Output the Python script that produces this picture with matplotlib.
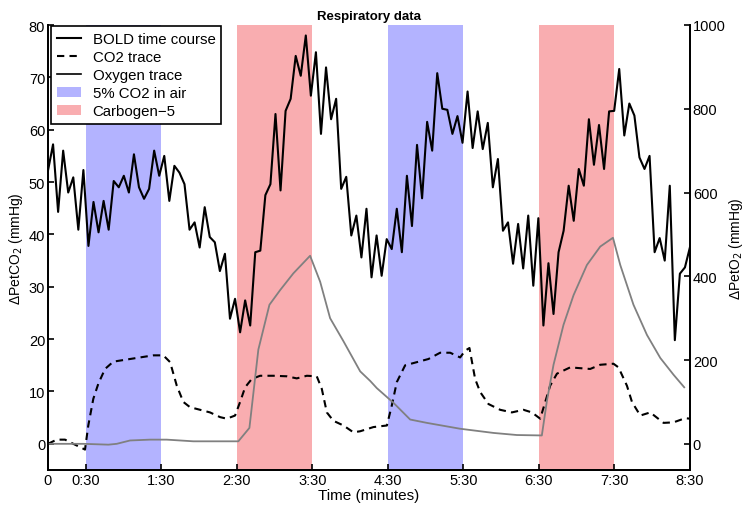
import matplotlib
matplotlib.use("Agg")
import matplotlib.pyplot as plt
from matplotlib.lines import Line2D
import numpy as np

plt.rcParams['font.family'] = ['Liberation Sans', 'DejaVu Sans']

# BOLD signal, one sample every ~4 s over the 8:30 run (left axis units)
bold = [52.2, 57.2, 44.3, 56.0, 48.0, 50.9, 40.9, 52.3, 37.8, 46.2,
        40.4, 46.4, 40.9, 50.2, 49.0, 51.2, 48.0, 55.3, 49.0, 46.8,
        48.7, 56.0, 51.2, 55.0, 46.4, 53.1, 51.8, 49.6, 40.9, 42.3,
        37.5, 45.2, 39.5, 38.5, 33.0, 36.3, 23.9, 27.7, 21.3, 27.4,
        22.6, 36.6, 36.9, 47.5, 49.6, 63.0, 48.4, 63.6, 65.9, 74.1,
        70.3, 78.0, 66.5, 74.8, 59.2, 71.9, 62.0, 65.9, 48.7, 51.0,
        39.8, 43.6, 35.6, 44.9, 31.8, 39.8, 32.1, 39.1, 37.2, 44.9,
        36.6, 51.2, 41.6, 57.1, 46.9, 61.5, 56.0, 70.8, 64.0, 63.8,
        59.2, 62.6, 57.5, 67.3, 56.5, 63.5, 56.3, 61.3, 49.0, 54.4,
        40.7, 42.3, 34.4, 42.0, 33.5, 43.6, 30.2, 43.1, 22.6, 34.5,
        24.8, 36.6, 40.7, 49.3, 42.6, 52.5, 49.3, 62.0, 53.3, 60.9,
        52.5, 63.5, 63.6, 71.6, 58.9, 65.0, 62.7, 54.7, 52.5, 55.0,
        36.6, 39.3, 35.0, 49.3, 19.8, 32.5, 33.7, 37.6]
bold_t = np.linspace(0, 510, len(bold))

# end-tidal CO2 change (mmHg)
co2_t = [0, 6.9, 13.5, 20.1, 29.4, 32.0, 36.0, 40.0, 45.3, 51.9, 62.5, 73.1,
         83.7, 91.6, 97.0, 102.3, 107.5, 112.8, 120.8, 128.7, 136.7, 142.0,
         148.6, 152.6, 156.6, 161.9, 168.5, 179.1, 189.7, 197.6, 205.6,
         213.5, 217.5, 221.5, 226.7, 234.7, 242.6, 248.0, 258.5, 269.2,
         273.1, 277.1, 283.7, 293.0, 302.2, 311.5, 319.5, 327.4, 331.4,
         334.8, 339.3, 343.3, 349.9, 359.2, 368.5, 377.7, 384.4, 391.0,
         395.0, 398.9, 404.3, 414.8, 425.4, 430.7, 438.7, 449.2, 453.2,
         459.9, 463.9, 470.5, 478.4, 489.0, 496.9, 506.2, 510]
co2 = [0, 0.8, 0.8, 0, -1.1, 3.5, 8.6, 11.5, 14.3, 15.7, 16.1, 16.5,
       16.9, 16.9, 15.6, 11.1, 8.0, 7.0, 6.5, 6.0, 5.1, 4.8,
       5.4, 8.0, 10.8, 12.4, 13.0, 13.0, 12.9, 12.5, 13.0,
       12.9, 10.5, 6.0, 4.4, 3.5, 2.2, 2.4, 3.2, 3.5,
       7.3, 11.8, 15.0, 15.6, 16.2, 17.4, 17.4, 16.5, 17.8,
       18.3, 12.4, 9.9, 7.6, 6.5, 6.0, 6.5, 6.0, 4.8,
       8.0, 11.1, 13.4, 14.6, 14.4, 14.3, 15.1, 15.3, 14.6,
       11.1, 8.0, 5.4, 6.0, 4.0, 4.1, 4.9, 4.8]

# end-tidal O2 change (mmHg, right axis)
o2_t = [0, 28.0, 48.0, 54.6, 65.2, 81.1, 94.3, 115.5, 136.7, 151.2, 160.0,
        167.1, 175.9, 184.4, 194.9, 208.2, 216.2, 224.1, 234.7, 248.0,
        256.0, 261.2, 274.4, 287.7, 301.0, 327.4, 353.9, 372.5, 392.3,
        396.3, 401.6, 409.5, 417.5, 428.1, 438.7, 448.8, 454.6, 465.1,
        475.8, 486.4, 496.9, 505.4]
o2 = [0, 0, -2, 0, 8, 10, 10, 6, 6, 6, 38,
      225, 332, 367, 407, 449, 387, 300, 245, 173,
      150, 133, 98, 58, 50, 36, 26, 21, 20,
      102, 189, 284, 355, 427, 471, 492, 427, 332,
      260, 205, 165, 135]

blocks_co2 = [(30, 90), (270, 330)]
blocks_carbogen = [(150, 210), (390, 450)]
xticks = [0, 30, 90, 150, 210, 270, 330, 390, 450, 510]
xticklabels = ['0', '0:30', '1:30', '2:30', '3:30', '4:30', '5:30', '6:30', '7:30', '8:30']

blue = '#b3b3ff'
red = '#f9adb0'

fig = plt.figure(figsize=(7.46, 5.1), dpi=100)
ax = fig.add_axes([48 / 746, 39 / 510, 642 / 746, 445 / 510])
ax2 = ax.twinx()

spans = []
for a, b in blocks_co2:
    spans.append(ax.axvspan(a, b, color=blue, lw=0, zorder=0))
for a, b in blocks_carbogen:
    spans.append(ax.axvspan(a, b, color=red, lw=0, zorder=0))

l_bold, = ax.plot(bold_t, bold, color='black', lw=1.5, zorder=3)
l_co2, = ax.plot(co2_t, co2, color='black', lw=1.5, ls=(0, (3.5, 2.5)), zorder=3)
ax2.plot(o2_t, o2, color='#808080', lw=1.3)

ax.set_xlim(0, 510)
ax.set_ylim(-5, 80)
ax2.set_ylim(-62.5, 1000)
ax.set_yticks(range(0, 81, 10))
ax2.set_yticks(range(0, 1001, 200))
ax.set_xticks(xticks)
ax.set_xticklabels(xticklabels)

for a in (ax, ax2):
    a.spines['top'].set_visible(False)
    for s in a.spines.values():
        s.set_linewidth(1.3)
    a.tick_params(direction='in', length=4, width=1.2, labelsize=10.5, pad=2)

ax.set_xlabel('Time (minutes)', fontsize=11, labelpad=1)
ax.set_ylabel('ΔPetCO$_2$ (mmHg)', fontsize=10, labelpad=3)
ax2.set_ylabel('ΔPetO$_2$ (mmHg)', fontsize=10, labelpad=1)
ax.set_title('Respiratory data', fontsize=9.5, fontweight='bold', pad=4)

o2_proxy = Line2D([], [], color='black', lw=1.2)
leg = ax2.legend([l_bold, l_co2, o2_proxy, spans[0], spans[2]],
                 ['BOLD time course', 'CO2 trace', 'Oxygen trace',
                  '5% CO2 in air', 'Carbogen\u22125'],
                 loc='upper left', bbox_to_anchor=(0.004, 0.998), borderaxespad=0,
                 fontsize=10.8, labelspacing=0.27, handlelength=1.6,
                 handletextpad=0.8, borderpad=0.4, fancybox=False,
                 framealpha=1, edgecolor='black')
leg.get_frame().set_linewidth(1.2)

fig.savefig('out.png', dpi=100)
